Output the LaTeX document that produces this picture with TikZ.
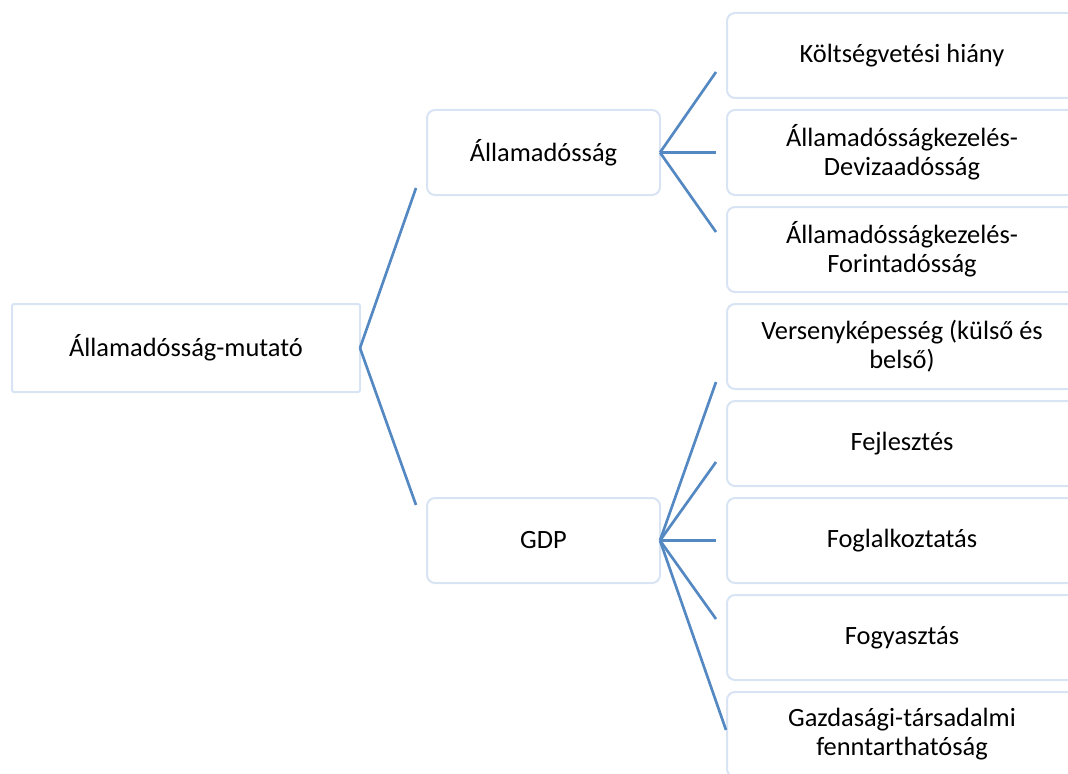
\documentclass[tikz,border=0pt]{standalone}
\usepackage{fontspec}
\setmainfont{Carlito}
\usetikzlibrary{positioning}
\definecolor{linkblue}{RGB}{84,136,194}
\definecolor{edgeblue}{RGB}{216,228,243}

\begin{document}
\begin{tikzpicture}[
    x=0.75pt, y=-0.75pt,
    node distance=9pt,
    box/.style={rectangle, rounded corners=6pt, minimum width=174.75pt, minimum height=63.75pt, outer sep=0pt, align=center, draw=edgeblue, line width=1.5pt, fill=white, font=\fontsize{19.8}{21.75}\selectfont},
    rootbox/.style={box, rounded corners=1.5pt, minimum width=261pt, minimum height=66pt},
    leafbox/.style={box, minimum width=262.5pt},
    link/.style={draw=linkblue, line width=2pt}
]
    \useasboundingbox (0,0) rectangle (1068,774);

    % boxes
    \node (root) [rootbox] at (186,348) {Államadósság-mutató};
    \node (debt) [box] at (543.5,152.5) {Államadósság};
    \node (gdp) [box] at (543.5,540.5) {GDP};

    \node (deficit) [leafbox] at (902,55.5) {Költségvetési hiány};
    \node (foreign) [leafbox, below=of deficit] {Államadósságkezelés-\\Devizaadósság};
    \node (forint) [leafbox, below=of foreign] {Államadósságkezelés-\\Forintadósság};
    \node (compet) [leafbox, below=of forint] {Versenyképesség (külső és\\belső)};
    \node (develop) [leafbox, below=of compet] {Fejlesztés};
    \node (employ) [leafbox, below=of develop] {Foglalkoztatás};
    \node (consume) [leafbox, below=of employ] {Fogyasztás};
    \node (sustain) [leafbox, below=of consume] {Gazdasági-társadalmi\\fenntarthatóság};

    % free ends of the connectors
    \coordinate (r1) at (416,188);
    \coordinate (r2) at (416,505);
    \coordinate (d1) at (716,72);
    \coordinate (d2) at (716,152.5);
    \coordinate (d3) at (716,232);
    \coordinate (g1) at (716,382);
    \coordinate (g2) at (716,462);
    \coordinate (g3) at (716,540.5);
    \coordinate (g4) at (716,619);
    \coordinate (g5) at (726,730);

    \draw [link] (root.east) -- (r1);
    \draw [link] (root.east) -- (r2);
    \draw [link] (debt.east) -- (d1);
    \draw [link] (debt.east) -- (d2);
    \draw [link] (debt.east) -- (d3);
    \draw [link] (gdp.east) -- (g1);
    \draw [link] (gdp.east) -- (g2);
    \draw [link] (gdp.east) -- (g3);
    \draw [link] (gdp.east) -- (g4);
    \draw [link] (gdp.east) -- (g5);
\end{tikzpicture}
\end{document}
